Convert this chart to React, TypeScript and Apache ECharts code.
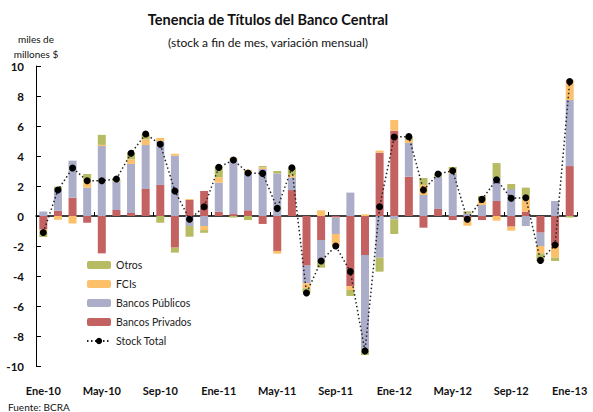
import React, { useEffect, useRef } from "react";
import * as echarts from "echarts";

const months = [
  "Ene-10","Feb-10","Mar-10","Abr-10","May-10","Jun-10","Jul-10","Ago-10","Sep-10","Oct-10","Nov-10","Dic-10",
  "Ene-11","Feb-11","Mar-11","Abr-11","May-11","Jun-11","Jul-11","Ago-11","Sep-11","Oct-11","Nov-11","Dic-11",
  "Ene-12","Feb-12","Mar-12","Abr-12","May-12","Jun-12","Jul-12","Ago-12","Sep-12","Oct-12","Nov-12","Dic-12",
  "Ene-13",
];

const bancosPrivados = [
  -0.9, 0.35, 1.22, -0.45, -2.49, 0.4, 0.2, 1.8, 2.07, -2.11, 1.07, 1.67,
  0.29, 0.13, 0.38, -0.53, -2.33, 1.73, -3.31, -1.6, -0.1, -4.67, -2.6, 4.22,
  5.69, 2.62, -0.78, 0.47, -0.27, -0.15, -0.27, 1.0, -0.71, 0.29, -1.11, -1.98,
  3.33,
];
const bancosPublicos = [
  0.3, 1.4, 2.47, 1.89, 4.67, 1.89, 3.27, 2.93, 2.93, 4.02, -0.67, -0.67,
  1.93, 3.6, 2.46, 3.13, 2.84, 0.85, -1.18, -1.4, -1.1, 1.56, -6.27, -2.78,
  -0.22, 2.25, 1.4, 2.15, 2.84, 0.16, 0.73, 1.56, 1.8, -0.67, -0.89, 1.0,
  4.4,
];
const fcis = [
  -0.2, -0.25, -0.5, 0.58, 0.07, 0, 0.31, 0.38, 0.2, 0.13, 0.06, -0.27,
  0.36, 0.16, 0.23, 0.11, -0.18, 0.15, -0.33, 0.38, -0.8, -0.26, 0.11, 0.14,
  0.71, 0.2, 0.67, 0, 0.29, -0.5, 0.38, -0.31, -0.27, 1.0, -0.49, -0.8,
  1.34,
];
const otros = [
  -0.3, 0.2, 0, 0.33, 0.67, 0.15, 0.44, 0.36, -0.45, -0.33, -0.71, -0.18,
  0.75, -0.1, -0.27, 0.09, 0.16, 0.49, -0.29, -0.44, 0, -0.4, -0.4, -0.93,
  -0.98, 0.22, 0.46, 0.18, 0.14, 0.15, 0.22, 0.97, 0.33, 0.6, -0.51, -0.22,
  -0.1,
];
const stockTotal = [
  -1.1, 1.73, 3.2, 2.35, 2.35, 2.47, 4.18, 5.47, 4.78, 1.67, -0.22, 0.62,
  3.24, 3.73, 2.87, 2.84, 0.51, 3.22, -5.13, -3.0, -2.0, -3.71, -9.0, 0.62,
  5.27, 5.29, 1.73, 2.8, 3.02, -0.22, 1.11, 2.42, 1.18, 1.22, -2.96, -1.93,
  8.96,
];

const FONT = "Lato, 'Open Sans', sans-serif";

export default function App() {
  const ref = useRef<HTMLDivElement>(null);
  useEffect(() => {
    document.body.style.margin = "0";
    if (!ref.current) return;
    const chart = echarts.init(ref.current, null, { renderer: "svg" });
    const barBase = {
      type: "bar" as const,
      stack: "total",
      barWidth: 8,
      xAxisIndex: 0,
      yAxisIndex: 0,
    };
    chart.setOption({
      animation: false,
      backgroundColor: "#ffffff",
      textStyle: { fontFamily: FONT },
      grid: { left: 36, right: 16, top: 66, bottom: 46, containLabel: false },
      legend: {
        data: ["Otros", "FCIs", "Bancos Públicos", "Bancos Privados", "Stock Total"],
        orient: "vertical",
        left: 81,
        top: 253,
        itemWidth: 24,
        itemHeight: 8,
        itemGap: 5,
        textStyle: { fontSize: 10.5, color: "#222", fontFamily: FONT, lineHeight: 14 },
      },
      xAxis: [
        {
          type: "category",
          data: months,
          position: "bottom",
          axisLine: { show: false, onZero: false },
          axisTick: { show: false },
          axisLabel: {
            interval: 3,
            fontWeight: "bold",
            fontSize: 11,
            color: "#111",
            margin: 19,
            fontFamily: FONT,
          },
        },
        {
          type: "category",
          data: months,
          position: "bottom",
          axisLine: { show: true, onZero: true, lineStyle: { color: "#000", width: 1.5 } },
          axisTick: { show: true, inside: true, interval: 3, length: 4, lineStyle: { color: "#000" } },
          axisLabel: { show: false },
        },
      ],
      yAxis: {
        type: "value",
        min: -10,
        max: 10,
        interval: 2,
        axisLine: { show: true, lineStyle: { color: "#000", width: 1 } },
        axisTick: { show: true, inside: true, length: 5, lineStyle: { color: "#000" } },
        splitLine: { show: false },
        axisLabel: { fontWeight: "bold", fontSize: 11.5, color: "#111", margin: 12, fontFamily: FONT },
      },
      series: [
        { ...barBase, name: "Bancos Privados", data: bancosPrivados, itemStyle: { color: "#c46262" } },
        { ...barBase, name: "Bancos Públicos", data: bancosPublicos, itemStyle: { color: "#abadc9" } },
        { ...barBase, name: "FCIs", data: fcis, itemStyle: { color: "#fdc06a" } },
        { ...barBase, name: "Otros", data: otros, itemStyle: { color: "#b7bb62" } },
        {
          type: "line",
          name: "Stock Total",
          data: stockTotal,
          xAxisIndex: 0,
          yAxisIndex: 0,
          symbol: "circle",
          symbolSize: 7,
          itemStyle: { color: "#000" },
          lineStyle: { color: "#222", width: 1.5, type: [1.5, 2.5] },
          z: 5,
        },
      ],
      graphic: [
        {
          type: "text",
          style: {
            x: 268, y: 19, text: "Tenencia de Títulos del Banco Central",
            textAlign: "center", textVerticalAlign: "middle",
            font: `bold 14.5px ${FONT}`, fill: "#111",
          },
        },
        {
          type: "text",
          style: {
            x: 268, y: 42, text: "(stock a fin de mes, variación mensual)",
            textAlign: "center", textVerticalAlign: "middle",
            font: `12px ${FONT}`, fill: "#111",
          },
        },
        {
          type: "text",
          style: {
            x: 36, y: 39, text: "miles de",
            textAlign: "center", textVerticalAlign: "middle",
            font: `10px ${FONT}`, fill: "#111",
          },
        },
        {
          type: "text",
          style: {
            x: 36, y: 54, text: "millones $",
            textAlign: "center", textVerticalAlign: "middle",
            font: `10px ${FONT}`, fill: "#111",
          },
        },
        {
          type: "text",
          style: {
            x: 8, y: 407, text: "Fuente: BCRA",
            textAlign: "left", textVerticalAlign: "middle",
            font: `10px ${FONT}`, fill: "#111",
          },
        },
      ],
    });
    return () => chart.dispose();
  }, []);
  return <div ref={ref} style={{ width: 593, height: 412 }} />;
}
